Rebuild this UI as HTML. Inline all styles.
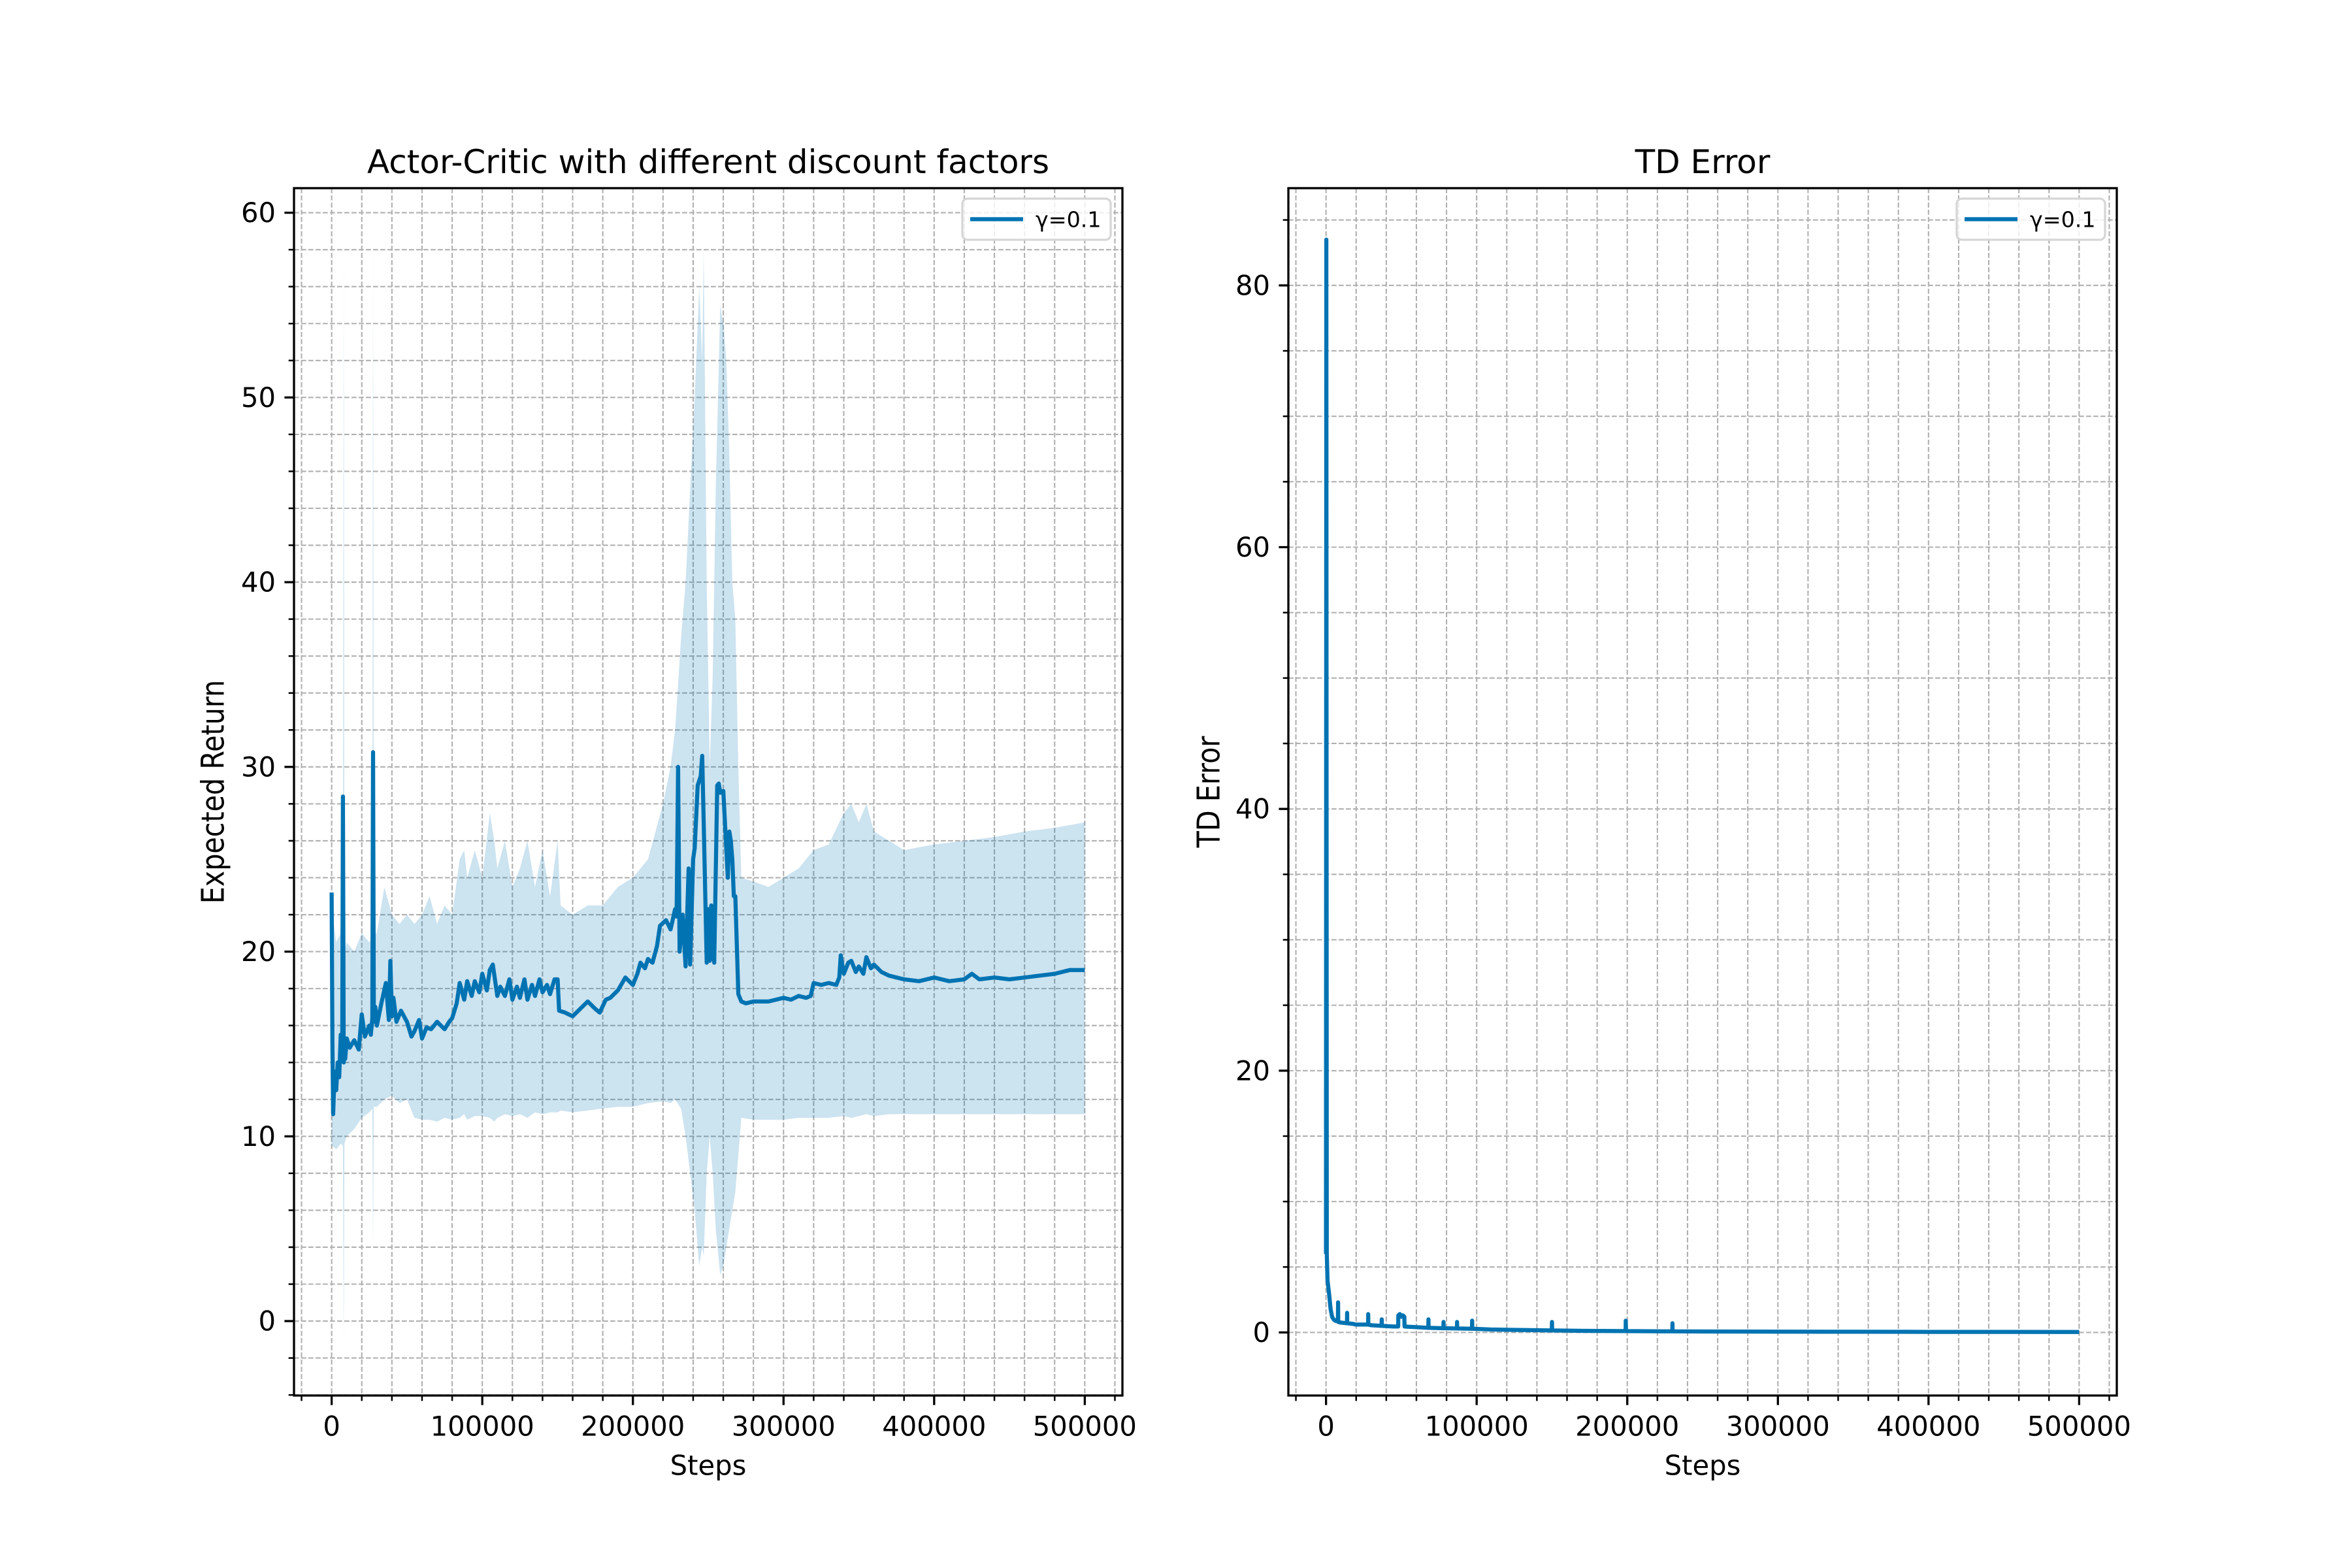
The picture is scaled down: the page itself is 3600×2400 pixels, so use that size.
<!DOCTYPE html>
<html><head><meta charset="utf-8"><style>
html,body{margin:0;padding:0;background:#fff}
svg{display:block}
text{font-family:"DejaVu Sans","Liberation Sans",sans-serif;fill:#000}
</style></head><body>
<svg id="fig" width="3600" height="2400" viewBox="0 0 3600 2400" xmlns="http://www.w3.org/2000/svg">
<rect width="3600" height="2400" fill="#fff"/>
</svg>
<script>
// ---- Left chart data (steps in thousands) ----
const retSteps = [0,0.5,1,2,3,4,5,6,7,7.5,8,8.5,9,10,12,15,18,20,22,25,
  26,27,27.5,28,29,30,33,36,38,39,40,41,43,46,50,53,55,58,60,63,
  66,70,75,78,80,83,85,88,90,93,95,98,100,103,105,107,110,112,115,118,
  120,123,125,128,130,133,135,138,140,143,145,148,150,151,155,160,165,170,175,178,
  182,185,190,195,200,203,205,208,210,213,216,218,222,225,228,229,230,231,233,235,
  237,238,240,241,243,245,246,247,249,250,251,252,253,254,256,257,258,260,263,264,
  265,266,267,268,270,271,272,275,280,290,300,305,310,315,318,320,325,330,335,337,
  338,340,343,345,348,350,353,355,358,360,365,370,375,380,390,400,410,420,425,430,
  440,450,460,470,480,490,500];
const retMean = [23.2,15,11.2,13.5,12.5,14,13.2,15.5,14.5,28.4,14,15,14.2,15.3,14.8,15.2,14.7,16.6,15.4,16,
  15.5,16.4,30.8,16.2,17,16,17.2,18.3,16.3,19.5,16.5,17.5,16.2,16.8,16.2,15.4,15.7,16.3,15.3,15.9,
  15.8,16.2,15.8,16.2,16.4,17.2,18.3,17.4,18.4,17.6,18.4,17.8,18.8,17.9,19,19.3,17.6,18.1,17.6,18.5,
  17.4,18.1,17.5,18.5,17.4,18.2,17.6,18.5,17.8,18.2,17.7,18.5,18.5,16.8,16.7,16.5,16.9,17.3,16.9,16.7,
  17.4,17.5,17.9,18.6,18.2,18.8,19.4,19.1,19.6,19.4,20.3,21.4,21.7,21.2,22.3,21.9,30,20,22,19.2,
  24.5,19.3,25,25.6,29,29.5,30.6,27,19.4,22.3,19.5,22.5,20,19.4,29,29.1,28.6,28.7,24,26.5,
  26,25,23,23,17.7,17.5,17.3,17.2,17.3,17.3,17.5,17.4,17.6,17.5,17.6,18.3,18.2,18.3,18.2,18.6,
  19.8,18.8,19.4,19.5,18.9,19.2,18.8,19.7,19.1,19.3,18.9,18.7,18.6,18.5,18.4,18.6,18.4,18.5,18.8,18.5,
  18.6,18.5,18.6,18.7,18.8,19,19];
const bandSteps = [0,3,6,7.5,8,8.5,10,15,20,25,27,27.5,28,30,35,40,45,50,55,60,65,70,75,80,85,88,90,95,100,105,108,110,115,120,125,130,135,140,145,150,152,160,170,180,190,200,210,220,225,228,232,235,238,241,244,246,247,249,251,253,255,258,260,262,264,266,268,270,272,280,290,300,310,320,330,340,345,350,355,360,370,380,400,420,440,460,480,500];
const bandUpper = [22.5,20.5,21,20,58,20,20.5,20,21,20.5,20.8,58,21,21,23.5,22,21.5,22,21.5,22,23,21.5,22.5,22,25,25.5,24,25.5,24,27.5,26,24.5,26,23.5,24.5,26,23.5,25.5,23,26,22.5,22,22.5,22.5,23.5,24,25,28,30,32,37,40,45,50,56,52,58,40,30,35,45,55,54,52,47,40,38,30,24,23.8,23.5,24,24.5,25.5,25.8,27.5,28,27,28,26.5,26,25.5,25.8,26,26.2,26.5,26.7,27];
const bandLower = [9.5,9.3,9.6,9.5,-1.3,9.6,10,10.4,11,11.3,11.5,4,11.6,11.6,12,12.2,11.8,12,11,10.9,10.9,10.8,11,10.9,11,11.2,10.9,11.1,11.1,11,10.8,11,11.2,11.1,11.2,11,11.3,11.2,11.3,11.3,11.4,11.3,11.4,11.5,11.6,11.6,11.8,11.9,11.8,12,11.5,10,8,6,3,4,3.5,8,10,8,5,2.5,3,4,5,6,7,9,11,10.9,10.9,10.9,11,11,11,11.1,11,11.1,11.2,11.1,11.2,11.2,11.2,11.2,11.2,11.2,11.2,11.2];
const retYTicks = [0,10,20,30,40,50,60];
const xTickLabels = ["0","100000","200000","300000","400000","500000"];
// ---- Right chart data ----
const tdSteps = [0,0.2,0.5,1,2,3,4,5,6,7.9,8,8.1,10,13.9,14,14.1,18,20,27.9,28,28.1,30,36.9,37,37.1,45,47.9,48,49,50,51,52,52.1,60,67.9,68,68.1,77.9,78,78.1,86.9,87,87.1,96.9,97,97.1,110,120,149.9,150,150.1,170,198.9,199,199.1,229.9,230,230.1,250,300,350,400,450,500];
const tdValues = [6,83.5,6,4,3,1.8,1.2,1,0.9,0.85,2.3,0.8,0.75,0.7,1.5,0.7,0.65,0.6,0.6,1.4,0.6,0.55,0.5,1,0.5,0.45,0.45,1.3,1.4,1.2,1.3,1.2,0.45,0.4,0.35,1,0.35,0.32,0.8,0.32,0.3,0.8,0.3,0.28,0.9,0.28,0.22,0.2,0.15,0.8,0.15,0.12,0.1,0.9,0.1,0.08,0.7,0.08,0.07,0.06,0.05,0.04,0.04,0.03];
const tdYTicks = [0,20,40,60,80];

const NS = "http://www.w3.org/2000/svg";
const svg = document.getElementById('fig');
const COLOR = "#0173b2";
function mk(tag, attrs, parent){const e=document.createElementNS(NS,tag);for(const k in attrs)e.setAttribute(k,attrs[k]);(parent||svg).appendChild(e);return e;}

function drawAxes(cfg){
  const g = mk('g',{});
  
  
  const L=cfg.left,R=cfg.right,T=288,B=2136;
  const xs = v => L + (v*1000 - (-25000))/550000*(R-L);
  const ys = v => B - (v - cfg.ymin)/(cfg.ymax-cfg.ymin)*(B-T);
  const grid = mk('g',{stroke:"#b0b0b0","stroke-width":2.1,"stroke-dasharray":"7.7,3.3",fill:"none"},g);
  
  
  for(let v=-20;v<=520;v+=20){const x=xs(v);if(x>L&&x<R)mk('line',{x1:x,x2:x,y1:T,y2:B},grid);}
  for(let v=Math.ceil(cfg.ymin/cfg.minor)*cfg.minor;v<=cfg.ymax;v+=cfg.minor){const y=ys(v);if(y>T&&y<B)mk('line',{x1:L,x2:R,y1:y,y2:y},grid);}
  cfg.draw(g,xs,ys);
  const tk = mk('g',{stroke:"#000",fill:"none"},g);
  
  
  for(let v=-20;v<=520;v+=20){const x=xs(v);if(x<L||x>R)continue;const major=(v%100===0);mk('line',{x1:x,x2:x,y1:B,y2:B+(major?14.6:8.3),"stroke-width":major?3.3:2.5},tk);}
  for(let v=Math.ceil(cfg.ymin/cfg.minor)*cfg.minor;v<=cfg.ymax;v+=cfg.minor){const y=ys(v);const major=cfg.yticks.indexOf(v)>=0;mk('line',{y1:y,y2:y,x1:L,x2:L-(major?14.6:8.3),"stroke-width":major?3.3:2.5},tk);}
  xTickLabels.forEach((s,i)=>{const t=mk('text',{x:xs(i*100),y:2183,"font-size":41.7,"text-anchor":"middle","dominant-baseline":"central"},g);t.textContent=s;
    
    });
  cfg.yticks.forEach(v=>{const t=mk('text',{x:L-28,y:ys(v),"font-size":41.7,"text-anchor":"end","dominant-baseline":"central"},g);t.textContent=String(v);
    
    });
  const sp = mk('rect',{x:L,y:T,width:R-L,height:B-T,fill:"none",stroke:"#000","stroke-width":3.3},g);
  
  
  const ti = mk('text',{x:(L+R)/2,y:248,"font-size":50,"text-anchor":"middle","dominant-baseline":"central"},g);ti.textContent=cfg.title;
  
  
  const xl = mk('text',{x:(L+R)/2,y:2243,"font-size":41.7,"text-anchor":"middle","dominant-baseline":"central"},g);xl.textContent="Steps";
  
  
  const yl = mk('text',{x:0,y:0,"font-size":48,"text-anchor":"middle","dominant-baseline":"central",transform:`translate(${cfg.ylabelX},${(T+B)/2}) rotate(-90) scale(0.86,1)`},g);yl.textContent=cfg.ylabel;
  
  
  const lg = mk('g',{},g);
  
  
  const lx = R-18-227;
  mk('rect',{x:lx,y:304,width:227,height:63,rx:8,fill:"#fff","fill-opacity":0.8,stroke:"#d6d6d6","stroke-width":3.3},lg);
  const ll = mk('line',{x1:lx+12,x2:lx+93,y1:335.5,y2:335.5,stroke:COLOR,"stroke-width":6.25},lg);
  
  
  const lt = mk('text',{x:lx+112,y:336,"font-size":33.3,"dominant-baseline":"central"},lg);lt.textContent="γ=0.1";
  
  
}

drawAxes({name:"return-chart",left:450,right:1718,ymin:-4.03,ymax:61.33,minor:2,yticks:retYTicks,
  title:"Actor-Critic with different discount factors",ylabel:"Expected Return",ylabelX:326,
  draw:(g,xs,ys)=>{
    let d="";bandSteps.forEach((s,i)=>{d+=(i?"L":"M")+xs(s).toFixed(1)+","+ys(bandUpper[i]).toFixed(1);});
    for(let i=bandSteps.length-1;i>=0;i--)d+="L"+xs(bandSteps[i]).toFixed(1)+","+ys(bandLower[i]).toFixed(1);
    const band=mk('path',{d:d+"Z",fill:COLOR,"fill-opacity":0.2,stroke:"none"},g);
    
    
    let p="";retSteps.forEach((s,i)=>{p+=(i?"L":"M")+xs(s).toFixed(1)+","+ys(retMean[i]).toFixed(1);});
    const line=mk('path',{d:p,fill:"none",stroke:COLOR,"stroke-width":6.25,"stroke-linejoin":"round"},g);
    
    
  }});

drawAxes({name:"td-error-chart",left:1972,right:3240,ymin:-4.82,ymax:87.43,minor:5,yticks:tdYTicks,
  title:"TD Error",ylabel:"TD Error",ylabelX:1850,
  draw:(g,xs,ys)=>{
    let p="";tdSteps.forEach((s,i)=>{p+=(i?"L":"M")+xs(s).toFixed(1)+","+ys(tdValues[i]).toFixed(1);});
    const line=mk('path',{d:p,fill:"none",stroke:COLOR,"stroke-width":6.25,"stroke-linejoin":"round"},g);
    
    
  }});
</script>
</body></html>
